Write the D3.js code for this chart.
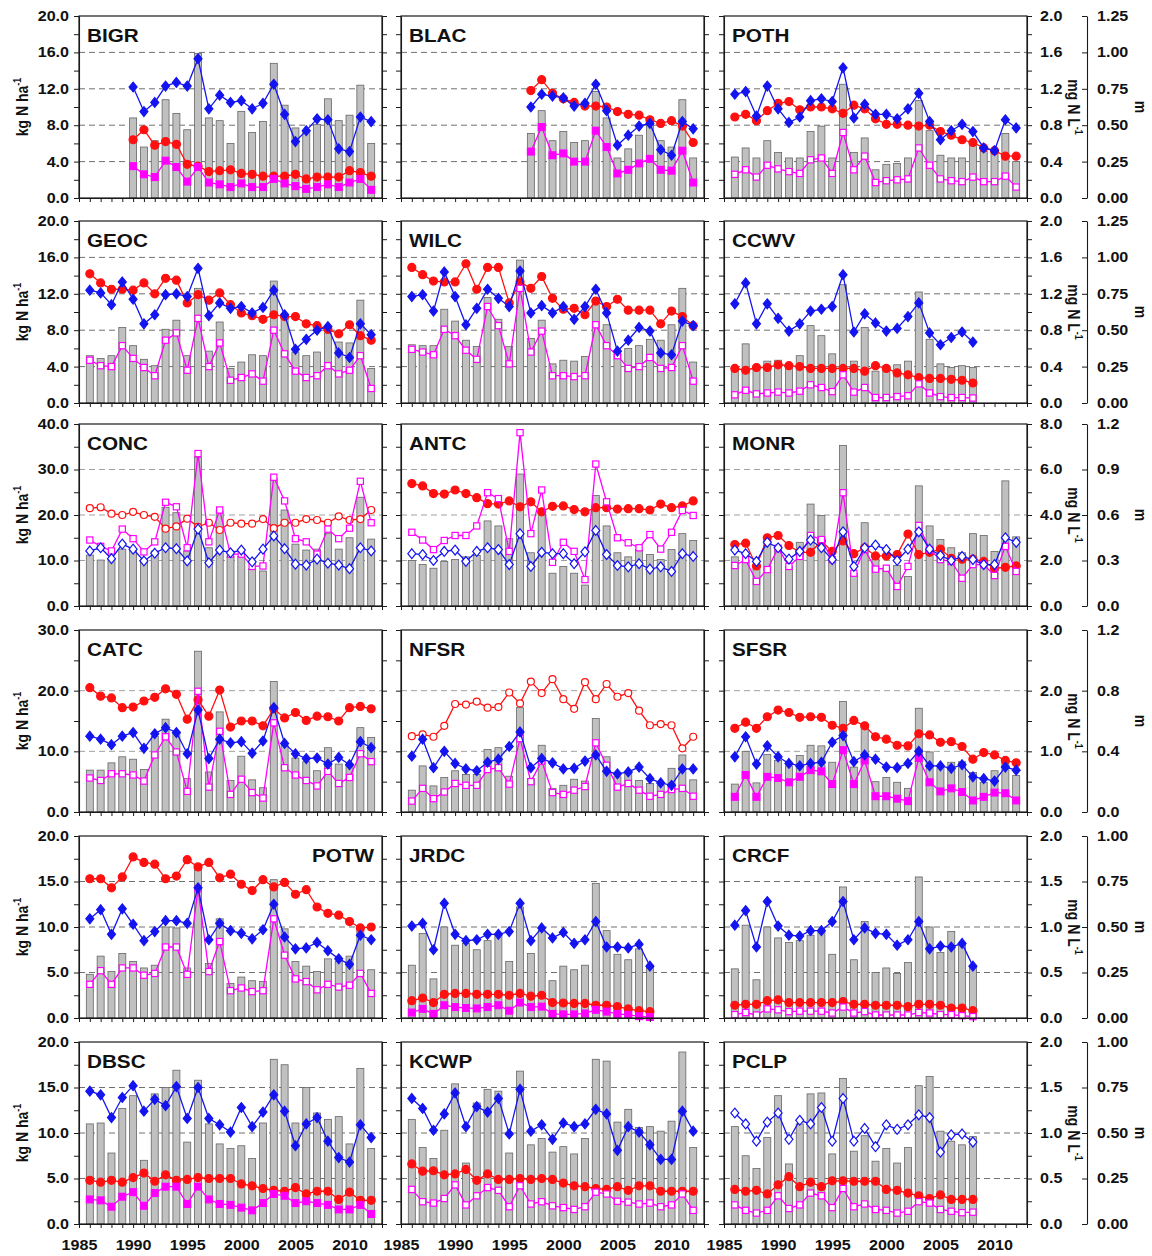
<!DOCTYPE html>
<html>
<head>
<meta charset="utf-8">
<script src="https://cdn.jsdelivr.net/npm/d3@7"></script>
<style>
  body { margin: 0; background: #fff; }
  svg text { font-family: "Liberation Sans", Arial, sans-serif; font-weight: bold; fill: #111; }
</style>
</head>
<body>
<svg id="chart" width="1152" height="1256"></svg>
<script>
// ---- Years (categories) ----
const yearsFull = [1986,1987,1988,1989,1990,1991,1992,1993,1994,1995,1996,1997,1998,1999,2000,2001,2002,2003,2004,2005,2006,2007,2008,2009,2010,2011,2012];
const years1990 = [1990,1991,1992,1993,1994,1995,1996,1997,1998,1999,2000,2001,2002,2003,2004,2005,2006,2007,2008,2009,2010,2011,2012];
const years1997 = [1997,1998,1999,2000,2001,2002,2003,2004,2005,2006,2007,2008,2009,2010,2011,2012];
const years2008 = [1986,1987,1988,1989,1990,1991,1992,1993,1994,1995,1996,1997,1998,1999,2000,2001,2002,2003,2004,2005,2006,2007,2008];
const tickYears = [1985,1986,1987,1988,1989,1990,1991,1992,1993,1994,1995,1996,1997,1998,1999,2000,2001,2002,2003,2004,2005,2006,2007,2008,2009,2010,2011,2012,2013];
const yearLabels = [1985,1990,1995,2000,2005,2010];

// ---- Series values, all on the left-axis (kg N ha-1) scale of each row ----
// bar = grey columns, circle = red, diamond = blue, square = magenta
const bigrBar     = [8.8,5.6,6.3,10.8,9.3,7.5,15.9,8.8,8.5,6.0,9.5,7.2,8.4,14.8,10.2,7.7,7.3,8.1,10.9,8.5,9.1,12.4,6.0];
const bigrDiamond = [12.2,9.5,10.5,12.3,12.7,12.3,15.3,9.8,11.3,10.5,10.7,9.8,10.4,12.5,9.2,6.2,7.4,8.7,8.6,5.4,5.1,8.9,8.4];
const bigrCircle  = [6.4,7.5,5.8,6.2,5.9,3.7,3.5,2.9,3.0,3.1,2.7,2.6,2.4,2.4,2.4,2.6,2.1,2.3,2.3,2.3,3.0,2.8,2.4];
const bigrSquare  = [3.5,2.6,2.3,4.1,3.4,1.8,3.4,1.7,1.5,1.2,1.6,1.2,1.2,2.1,1.6,1.3,1.0,1.2,1.5,1.2,1.7,2.1,0.9];

const blacBar     = [7.1,9.6,6.3,7.3,6.1,6.3,11.7,8.8,4.4,5.4,6.9,8.3,6.3,5.6,10.8,4.4];
const blacCircle  = [11.8,13.0,11.5,10.9,10.5,10.1,10.1,10.0,9.5,9.2,9.1,8.6,8.2,8.5,7.9,6.1];
const blacDiamond = [10.0,11.4,11.2,11.0,10.1,10.4,12.5,9.6,5.8,6.9,7.9,8.2,5.3,4.7,8.4,7.6];
const blacSquare  = [5.1,7.8,4.7,4.9,4.0,4.0,7.4,5.6,2.7,3.1,3.8,4.3,3.1,3.0,5.2,1.7];

const pothBar     = [4.5,5.5,4.4,6.3,5.0,4.4,4.4,7.3,7.9,4.4,12.5,5.0,6.6,3.1,3.7,3.8,4.4,10.7,7.4,4.7,4.4,4.4,5.8,5.1,4.9,7.1,4.0];
const pothDiamond = [11.4,11.7,9.0,12.3,9.8,8.3,8.9,10.7,10.9,10.6,14.3,8.8,10.3,9.2,9.2,8.7,9.8,11.5,8.4,6.4,7.4,8.1,7.3,5.5,5.2,8.6,7.7];
const pothCircle  = [8.9,9.2,8.5,9.6,10.4,10.6,9.7,10.0,10.0,9.8,9.3,10.2,9.8,8.7,8.1,8.1,8.0,7.9,8.0,7.3,6.9,6.4,6.1,5.5,5.2,4.6,4.6];
const pothSquare  = [2.6,3.1,2.3,3.6,3.2,2.9,2.7,4.2,4.4,2.7,7.2,3.1,4.6,1.7,1.9,2.0,2.1,5.5,3.6,2.1,1.9,1.8,2.3,1.8,1.8,2.4,1.2];

const geocBar     = [5.2,4.9,5.2,8.3,6.3,4.8,4.1,8.1,9.1,5.2,12.6,5.7,8.9,3.8,4.5,5.3,5.2,13.4,9.4,5.6,5.2,5.6,7.7,6.7,6.6,11.3,3.8];
const geocCircle  = [14.2,13.2,12.5,12.5,12.4,13.2,12.0,13.7,13.5,11.0,11.9,11.3,12.1,10.8,9.9,9.6,9.2,9.7,9.5,9.5,8.7,8.5,8.1,7.6,8.6,7.4,6.9];
const geocDiamond = [12.4,12.1,10.8,13.3,11.4,8.7,9.7,11.9,12.0,11.7,14.8,9.6,11.0,10.4,10.6,9.9,10.5,12.4,9.7,5.9,7.0,8.0,8.4,5.5,5.0,8.7,7.5];
const geocSquare  = [4.7,4.1,4.0,6.3,4.9,3.9,3.0,6.9,7.7,3.6,9.3,4.0,6.6,2.5,2.8,3.2,2.4,8.0,5.4,3.5,2.8,3.0,4.1,3.2,3.6,5.2,1.6];

const wilcBar     = [6.4,6.3,6.3,10.3,9.0,6.9,6.2,11.6,9.2,6.2,15.7,7.1,9.1,4.3,4.7,4.6,5.1,10.8,8.6,5.4,6.0,6.3,7.0,6.9,8.6,12.6,4.5];
const wilcCircle  = [14.9,14.1,13.4,13.3,13.3,15.3,12.5,14.9,14.9,11.0,13.3,12.6,13.9,11.5,10.3,10.4,9.7,11.2,10.6,11.4,10.2,10.2,10.2,8.7,10.1,9.5,8.5];
const wilcDiamond = [11.7,11.9,10.1,14.4,11.7,8.6,10.4,12.5,11.5,10.6,14.5,9.9,10.7,9.9,10.6,9.2,10.6,12.5,9.9,5.7,6.9,8.3,7.9,5.5,5.3,9.0,8.5];
const wilcSquare  = [5.9,5.6,5.3,8.1,7.4,5.8,4.8,10.6,8.5,4.3,12.6,5.6,7.9,3.0,3.0,2.9,3.0,8.6,6.3,5.2,3.8,4.0,5.0,3.8,3.9,6.3,2.4];

const ccwvBar     = [3.5,6.5,3.9,4.6,4.7,4.3,5.2,8.5,7.4,5.4,13.0,4.6,8.3,3.5,4.1,4.2,4.6,12.2,7.0,4.3,3.9,4.1,3.9];
const ccwvDiamond = [10.9,13.2,8.7,10.9,9.3,7.9,8.7,10.1,10.3,10.6,14.1,7.8,9.8,8.8,7.9,8.2,9.5,11.0,7.7,6.4,7.2,7.8,6.7];
const ccwvCircle  = [3.8,3.6,3.9,3.9,4.2,4.1,4.0,3.8,3.8,3.8,3.8,3.8,3.5,4.1,3.8,3.3,3.1,2.8,2.7,2.7,2.6,2.5,2.2];
const ccwvSquare  = [0.9,1.4,1.0,1.1,1.2,1.1,1.3,2.0,1.7,1.25,3.1,1.2,1.7,0.6,0.6,0.7,0.8,2.1,1.1,0.7,0.6,0.6,0.55];

const concBar     = [11.2,10.1,10.3,12.5,12.5,10.3,12.1,21.7,20.5,12.1,32.7,12.8,20.9,10.9,10.9,8.2,7.7,28.0,21.1,13.6,12.3,12.5,16.0,12.5,15.0,23.9,14.7];
const concCircle  = [21.5,21.7,20.3,20.0,20.7,20.0,19.6,17.0,17.5,19.2,17.4,18.3,16.7,18.3,18.1,18.1,19.1,17.1,18.3,18.3,19.1,18.9,18.3,19.7,18.9,19.1,21.1];
const concDiamond = [12.1,12.8,10.4,13.6,12.5,9.9,11.6,12.8,12.6,9.9,16.9,9.5,12.3,11.7,12.3,9.7,12.5,15.4,12.6,9.2,9.0,10.3,9.4,9.0,8.2,12.8,12.1];
const concSquare  = [14.5,13.1,12.1,16.9,14.8,11.9,14.1,22.8,21.8,12.8,33.5,14.1,21.1,11.4,11.4,8.7,8.8,28.3,23.1,14.8,14.1,11.4,16.9,14.8,17.1,27.4,18.3];

const antcBar     = [10.0,9.1,8.3,9.8,10.2,10.8,11.1,18.7,17.6,14.8,29.0,11.7,20.7,7.2,8.7,7.2,4.6,24.3,17.6,11.7,10.8,12.4,11.3,10.2,12.4,15.9,14.4];
const antcCircle  = [26.9,26.4,24.7,24.6,25.5,24.7,23.8,22.5,22.4,23.1,21.8,22.9,20.7,21.9,22.0,21.2,20.7,21.6,21.6,21.3,21.4,21.4,21.1,22.4,21.6,22.0,23.1];
const antcDiamond = [11.5,11.3,10.0,12.0,12.3,9.8,12.0,12.8,12.4,9.1,15.9,8.7,11.8,11.5,11.5,9.3,11.9,16.6,11.3,8.9,8.6,9.3,8.1,8.6,7.6,11.5,10.9];
const antcSquare  = [16.2,14.5,12.4,14.4,15.5,15.5,17.6,24.9,23.6,12.0,38.1,15.9,25.5,9.6,14.0,12.0,5.8,31.2,22.9,15.0,13.9,12.8,15.7,12.5,16.2,21.0,19.9];

const monrBar     = [10.8,9.8,8.9,15.2,12.8,8.7,14.0,22.4,19.9,10.2,35.3,7.2,18.3,10.2,8.3,8.9,6.5,26.4,17.6,14.6,12.8,11.7,15.9,15.5,12.0,27.5,15.2];
const monrCircle  = [13.5,13.8,8.8,15.0,15.5,13.3,11.8,11.8,14.3,12.0,14.3,11.5,12.8,11.0,11.0,11.3,15.8,11.3,11.8,12.5,10.5,10.3,10.3,9.8,8.3,8.5,8.8];
const monrDiamond = [12.3,11.5,9.8,14.0,12.8,10.3,12.0,14.5,12.8,10.2,16.3,8.7,12.8,13.4,12.4,10.0,12.5,16.3,12.5,11.1,10.0,10.9,10.2,9.1,9.1,15.0,14.0];
const monrSquare  = [8.9,10.2,5.4,8.0,12.7,8.7,10.9,15.5,14.6,10.2,24.9,7.2,12.4,8.1,8.3,4.3,8.7,17.7,12.4,10.2,9.8,6.1,9.1,9.1,6.7,13.1,7.6];

const catcBar     = [6.9,6.9,8.1,9.1,8.7,7.0,12.5,15.3,13.2,5.5,26.5,6.6,16.5,5.2,9.2,5.3,4.0,21.5,11.0,8.9,8.3,6.8,10.6,7.9,7.7,13.9,12.3];
const catcCircle  = [20.5,19.1,18.8,17.2,17.3,18.3,18.9,20.3,19.4,15.3,18.5,15.8,20.1,14.0,15.0,15.0,14.2,17.0,15.5,16.4,15.1,15.8,15.7,15.0,17.2,17.4,17.0];
const catcDiamond = [12.5,12.0,11.1,12.5,13.1,10.5,12.9,13.9,13.1,9.6,16.8,8.8,12.0,11.4,11.6,9.7,11.7,17.2,11.3,9.6,8.8,8.9,7.9,9.0,7.8,11.6,10.6];
const catcSquare  = [5.6,5.2,6.3,6.3,6.1,5.1,9.4,12.4,9.9,3.4,19.9,4.1,13.3,2.9,5.4,3.2,2.3,14.7,7.3,6.1,5.2,4.3,6.7,4.7,5.7,9.6,8.3];

const nfsrBar     = [3.6,7.6,4.3,5.7,6.8,6.2,6.2,10.3,10.6,5.9,17.2,5.5,11.0,3.9,4.4,5.4,5.1,15.4,9.1,5.8,6.5,5.2,4.7,4.4,7.2,9.4,5.3];
const nfsrCircle  = [12.5,12.8,12.4,14.2,17.8,17.7,18.2,17.2,17.3,19.7,17.9,21.5,19.6,21.9,18.6,17.0,21.4,18.6,21.1,19.0,19.6,16.7,14.3,14.5,14.3,10.5,12.4];
const nfsrDiamond = [9.2,12.0,7.3,10.0,8.0,7.1,6.8,8.2,8.7,10.8,13.2,7.3,8.8,8.1,7.1,7.2,8.4,9.4,6.7,6.3,6.6,7.4,5.5,4.8,4.4,7.1,7.1];
const nfsrSquare  = [1.8,3.9,2.2,3.3,4.7,4.4,4.4,7.0,7.3,4.6,12.1,5.0,8.4,3.2,2.9,3.6,4.2,11.4,7.7,4.1,4.7,3.6,2.6,2.9,3.7,3.9,2.6];

const sfsrBar     = [4.6,10.0,4.8,9.5,8.5,7.6,9.3,11.0,10.9,8.2,18.2,7.4,14.3,5.0,5.7,4.9,3.9,17.1,9.9,7.3,8.2,8.3,6.5,4.9,6.8,8.5,6.0];
const sfsrCircle  = [13.8,14.8,13.8,15.7,16.8,16.4,15.6,15.7,15.6,14.3,13.8,15.1,14.2,12.4,12.0,11.0,10.9,12.9,12.7,11.5,11.6,10.8,8.7,9.8,9.4,8.5,8.1];
const sfsrDiamond = [9.1,12.4,7.9,10.9,9.1,8.0,7.6,8.0,8.2,11.5,12.6,8.3,9.4,8.7,7.4,7.3,8.0,10.0,7.6,7.6,7.2,7.8,5.8,5.5,5.1,7.4,6.9];
const sfsrSquare  = [2.5,6.1,2.5,5.8,5.6,4.9,5.8,6.9,6.7,4.6,10.2,4.6,8.5,2.6,2.6,2.2,1.8,8.9,4.9,3.4,3.9,3.3,1.9,2.5,3.2,3.1,1.9];

const potwBar     = [4.8,6.8,5.1,7.1,6.2,5.5,5.8,10.0,9.9,5.5,16.9,6.0,10.9,3.8,4.5,4.1,4.0,15.2,9.8,6.2,5.7,5.1,6.5,6.2,6.8,10.0,5.3];
const potwCircle  = [15.3,15.3,14.3,15.5,17.7,17.1,16.9,15.3,15.6,17.4,16.6,17.1,15.4,15.8,14.7,14.0,15.2,14.4,14.9,13.6,14.1,12.2,11.5,11.3,10.6,9.9,10.0];
const potwDiamond = [10.9,11.9,9.2,12.0,10.3,8.5,9.5,10.7,10.7,10.4,14.3,8.6,10.4,9.6,9.3,8.7,9.7,12.5,8.9,7.6,7.7,8.3,7.4,6.5,5.9,9.1,8.6];
const potwSquare  = [3.7,5.2,3.7,5.5,5.5,4.7,4.9,7.8,7.8,4.8,14.2,5.1,8.4,3.0,3.3,2.9,3.0,10.9,6.9,4.3,4.0,3.1,3.7,3.4,3.6,4.9,2.7];

const jrdcBar     = [5.8,9.3,4.3,10.0,8.0,8.2,7.5,8.5,9.1,6.2,12.2,7.1,9.6,4.1,5.7,5.3,5.8,14.8,9.6,7.0,6.4,7.6,5.8];
const jrdcDiamond = [10.1,10.4,7.5,12.6,9.2,8.5,8.6,9.2,9.2,9.5,12.6,8.5,9.9,8.8,9.4,8.2,8.6,10.6,7.8,7.8,7.7,8.1,5.7];
const jrdcCircle  = [1.9,2.2,1.7,2.6,2.7,2.7,2.6,2.6,2.6,2.5,2.7,2.4,2.5,1.7,1.65,1.6,1.6,1.4,1.4,1.25,1.0,0.8,0.7];
const jrdcSquare  = [0.6,1.0,0.45,1.4,1.2,1.1,1.05,1.2,1.4,0.8,1.7,1.2,1.25,0.45,0.4,0.4,0.5,0.9,0.7,0.45,0.35,0.2,0.1];

const crcfBar     = [5.4,10.2,4.2,10.0,8.8,8.3,8.5,9.1,9.4,7.0,14.4,6.4,10.6,5.0,5.5,4.9,6.1,15.5,10.0,7.2,9.5,8.2,5.8];
const crcfDiamond = [10.2,11.8,7.8,12.8,10.1,9.1,9.0,9.6,9.6,10.6,12.8,8.6,9.9,9.3,9.2,8.0,8.6,10.6,7.6,7.9,7.8,8.2,5.7];
const crcfCircle  = [1.4,1.5,1.5,1.9,2.0,1.7,1.7,1.7,1.7,1.7,1.8,1.5,1.5,1.4,1.4,1.4,1.25,1.5,1.5,1.4,1.1,1.1,0.8];
const crcfSquare  = [0.37,0.6,0.33,1.0,0.9,0.7,0.75,0.75,0.75,0.55,1.2,0.55,0.7,0.33,0.33,0.33,0.33,0.6,0.55,0.37,0.37,0.25,0.15];

const dbscBar     = [11.0,11.1,7.8,12.7,14.1,7.0,14.3,15.0,16.9,9.0,15.8,11.0,8.8,8.3,8.6,7.2,11.1,18.1,17.5,11.1,15.0,12.2,11.5,11.8,8.8,17.1,8.3];
const dbscDiamond = [14.6,14.2,11.7,13.9,15.2,12.4,13.7,13.0,15.1,11.6,15.0,11.6,10.9,10.1,12.8,10.7,12.3,14.2,12.4,8.6,11.0,11.7,9.1,7.3,6.8,10.9,9.5];
const dbscCircle  = [4.8,4.6,4.8,4.6,5.1,5.6,4.7,5.4,4.8,4.9,5.1,5.0,5.0,5.0,4.4,4.2,3.9,3.7,3.6,4.0,3.3,3.6,3.6,2.7,3.5,2.6,2.6];
const dbscSquare  = [2.7,2.6,1.9,3.0,3.5,2.0,3.4,4.1,4.1,2.2,4.1,2.7,2.2,2.1,1.8,1.5,2.3,3.3,3.1,2.3,2.5,2.3,2.1,1.6,1.6,2.1,1.1];

const kcwpBar     = [11.5,8.4,7.2,10.3,15.4,6.7,13.3,14.8,14.6,7.8,16.8,8.7,9.4,7.9,8.5,7.7,9.4,18.1,17.9,11.2,12.6,10.6,10.7,10.2,11.3,18.9,8.4];
const kcwpDiamond = [13.8,12.7,10.3,12.1,14.4,10.7,12.9,12.3,13.8,9.9,14.8,10.2,10.9,9.3,11.1,10.7,11.0,12.6,12.1,8.1,10.7,10.1,8.7,7.1,7.1,12.4,10.2];
const kcwpCircle  = [6.6,5.8,5.85,5.4,5.5,6.0,4.8,5.5,4.9,4.9,5.0,4.9,5.0,4.9,4.5,4.2,4.1,3.9,3.8,4.1,3.7,4.2,4.2,3.6,3.6,3.6,3.6];
const kcwpSquare  = [3.8,2.45,2.3,2.8,4.3,2.1,3.1,4.0,3.7,1.9,4.2,2.2,2.45,2.0,1.8,1.6,1.9,3.5,3.3,2.5,2.4,2.2,2.3,1.9,2.1,3.3,1.5];

const pclpBar     = [10.7,7.5,6.1,9.5,14.1,6.6,11.0,14.3,14.4,7.7,16.0,8.0,9.7,6.9,8.3,6.7,8.4,15.2,16.2,10.2,9.1,8.7,9.6];
const pclpDiamond = [12.2,11.0,9.1,11.2,12.2,9.3,11.4,11.0,12.8,9.1,13.8,9.1,10.5,8.5,10.9,10.4,10.9,12.0,11.7,7.9,9.8,9.9,9.0];
const pclpCircle  = [3.8,3.6,3.7,3.3,4.3,5.2,4.1,4.6,4.1,4.75,4.75,4.7,4.7,4.7,3.8,3.7,3.4,3.1,2.8,3.2,2.7,2.7,2.7];
const pclpSquare  = [2.1,1.5,1.2,1.5,3.1,1.7,2.1,3.4,3.1,1.8,3.9,1.9,2.2,1.6,1.5,1.2,1.4,2.45,2.3,1.6,1.4,1.25,1.3];

// ---- Axis tick labels per row ----
const leftTicks  = [[0,4,8,12,16,20],[0,4,8,12,16,20],[0,10,20,30,40],[0,10,20,30],[0,5,10,15,20],[0,5,10,15,20]];
const leftMinor  = [[2,6,10,14,18],[2,6,10,14,18],[5,15,25,35],[5,15,25],[2.5,7.5,12.5,17.5],[2.5,7.5,12.5,17.5]];
const mgTicks    = [[0,0.4,0.8,1.2,1.6,2.0],[0,0.4,0.8,1.2,1.6,2.0],[0,2,4,6,8],[0,1,2,3],[0,0.5,1.0,1.5,2.0],[0,0.5,1.0,1.5,2.0]];
const mgMinor    = [[0.2,0.6,1.0,1.4,1.8],[0.2,0.6,1.0,1.4,1.8],[1,3,5,7],[0.5,1.5,2.5],[0.25,0.75,1.25,1.75],[0.25,0.75,1.25,1.75]];
const mTicks     = [[0,0.25,0.5,0.75,1.0,1.25],[0,0.25,0.5,0.75,1.0,1.25],[0,0.3,0.6,0.9,1.2],[0,0.4,0.8,1.2],[0,0.25,0.5,0.75,1.0],[0,0.25,0.5,0.75,1.0]];
const mDigits    = [2,2,1,1,2,2];

// ---- Panel table ----
const sites = [
  {name:"BIGR", row:0, col:0, years:years1990, bar:bigrBar, circle:bigrCircle, diamond:bigrDiamond, square:bigrSquare, open:[0,0,0]},
  {name:"BLAC", row:0, col:1, years:years1997, bar:blacBar, circle:blacCircle, diamond:blacDiamond, square:blacSquare, open:[0,0,0]},
  {name:"POTH", row:0, col:2, years:yearsFull, bar:pothBar, circle:pothCircle, diamond:pothDiamond, square:pothSquare, open:[0,0,1]},
  {name:"GEOC", row:1, col:0, years:yearsFull, bar:geocBar, circle:geocCircle, diamond:geocDiamond, square:geocSquare, open:[0,0,1]},
  {name:"WILC", row:1, col:1, years:yearsFull, bar:wilcBar, circle:wilcCircle, diamond:wilcDiamond, square:wilcSquare, open:[0,0,1]},
  {name:"CCWV", row:1, col:2, years:years2008, bar:ccwvBar, circle:ccwvCircle, diamond:ccwvDiamond, square:ccwvSquare, open:[0,0,1]},
  {name:"CONC", row:2, col:0, years:yearsFull, bar:concBar, circle:concCircle, diamond:concDiamond, square:concSquare, open:[1,1,1]},
  {name:"ANTC", row:2, col:1, years:yearsFull, bar:antcBar, circle:antcCircle, diamond:antcDiamond, square:antcSquare, open:[0,1,1]},
  {name:"MONR", row:2, col:2, years:yearsFull, bar:monrBar, circle:monrCircle, diamond:monrDiamond, square:monrSquare, open:[0,1,1]},
  {name:"CATC", row:3, col:0, years:yearsFull, bar:catcBar, circle:catcCircle, diamond:catcDiamond, square:catcSquare, open:[0,0,1]},
  {name:"NFSR", row:3, col:1, years:yearsFull, bar:nfsrBar, circle:nfsrCircle, diamond:nfsrDiamond, square:nfsrSquare, open:[1,0,1]},
  {name:"SFSR", row:3, col:2, years:yearsFull, bar:sfsrBar, circle:sfsrCircle, diamond:sfsrDiamond, square:sfsrSquare, open:[0,0,0]},
  {name:"POTW", row:4, col:0, years:yearsFull, bar:potwBar, circle:potwCircle, diamond:potwDiamond, square:potwSquare, open:[0,0,1], right:true},
  {name:"JRDC", row:4, col:1, years:years2008, bar:jrdcBar, circle:jrdcCircle, diamond:jrdcDiamond, square:jrdcSquare, open:[0,0,0]},
  {name:"CRCF", row:4, col:2, years:years2008, bar:crcfBar, circle:crcfCircle, diamond:crcfDiamond, square:crcfSquare, open:[0,0,1]},
  {name:"DBSC", row:5, col:0, years:yearsFull, bar:dbscBar, circle:dbscCircle, diamond:dbscDiamond, square:dbscSquare, open:[0,0,0]},
  {name:"KCWP", row:5, col:1, years:yearsFull, bar:kcwpBar, circle:kcwpCircle, diamond:kcwpDiamond, square:kcwpSquare, open:[0,0,1]},
  {name:"PCLP", row:5, col:2, years:years2008, bar:pclpBar, circle:pclpCircle, diamond:pclpDiamond, square:pclpSquare, open:[0,1,1]}
];

// ---- Layout ----
const colX = [79, 401, 724];
const rowY = [16, 221, 424, 630, 836, 1042];
const PW = 303, PH = 182;
const SX = 1.15;                 // horizontal widening of the bold lettering
const mAxisX = 1087;
const RED = "#ff1010", BLUE = "#1414f0", MAG = "#ff00ff";
const FONT = "Liberation Sans, Arial, sans-serif";
const gridColour = ["#707070", "#707070", "#a0a0a0", "#a0a0a0", "#707070", "#707070"];

const svg = d3.select("#chart");

function styleAxis(g) {
  g.attr("font-family", FONT).attr("font-size", 14).attr("font-weight", "bold");
  g.selectAll("path.domain").attr("stroke", "#1a1a1a").attr("stroke-width", 1.1);
  g.selectAll(".tick line").attr("stroke", "#1a1a1a").attr("stroke-width", 1);
  g.selectAll(".tick text").attr("fill", "#111");
}

const diamondPath = "M0,-4.9L4,0L0,4.9L-4,0Z";

function drawSeries(g, x, y, years, vals, color, shape, open) {
  const pts = years.map((yr, i) => [x(yr), y(vals[i])]);
  g.append("path").attr("d", d3.line()(pts))
    .attr("fill", "none").attr("stroke", color).attr("stroke-width", 1.3);
  const fill = open ? "#fff" : color;
  const mk = g.append("g");
  if (shape === "circle") {
    mk.selectAll("circle").data(pts).join("circle")
      .attr("cx", d => d[0]).attr("cy", d => d[1]).attr("r", open ? 3.5 : 4)
      .attr("fill", fill).attr("stroke", color).attr("stroke-width", 1.2);
  } else if (shape === "square") {
    const h = open ? 3.1 : 3.4;
    mk.selectAll("rect").data(pts).join("rect")
      .attr("x", d => d[0] - h).attr("y", d => d[1] - h).attr("width", 2 * h).attr("height", 2 * h)
      .attr("fill", fill).attr("stroke", color).attr("stroke-width", 1.2);
  } else {
    mk.selectAll("path").data(pts).join("path")
      .attr("d", diamondPath).attr("transform", d => `translate(${d[0]},${d[1]})`)
      .attr("fill", fill).attr("stroke", color).attr("stroke-width", 1.2);
  }
}

sites.forEach(s => {
  const L = colX[s.col], T = rowY[s.row], r = s.row;
  const lt = leftTicks[r];
  const yMax = lt[lt.length - 1];
  const x = d3.scaleLinear().domain([1985, 2013]).range([L, L + PW]);
  const y = d3.scaleLinear().domain([0, yMax]).range([T + PH, T]);
  const g = svg.append("g");

  // dashed gridlines at the inner major ticks
  g.selectAll("line.grid").data(lt.filter(v => v > 0 && v < yMax)).join("line")
    .attr("class", "grid")
    .attr("x1", L).attr("x2", L + PW).attr("y1", d => y(d)).attr("y2", d => y(d))
    .attr("stroke", gridColour[r]).attr("stroke-width", 1).attr("stroke-dasharray", "6,4");

  // grey columns
  g.selectAll("rect.bar").data(s.years.map((yr, i) => [yr, s.bar[i]])).join("rect")
    .attr("class", "bar")
    .attr("x", d => x(d[0]) - 3.5).attr("width", 7)
    .attr("y", d => y(d[1])).attr("height", d => y(0) - y(d[1]))
    .attr("fill", "#c0c0c0").attr("stroke", "#666").attr("stroke-width", 0.8);

  drawSeries(g, x, y, s.years, s.circle, RED, "circle", s.open[0]);
  drawSeries(g, x, y, s.years, s.square, MAG, "square", s.open[2]);
  drawSeries(g, x, y, s.years, s.diamond, BLUE, "diamond", s.open[1]);

  // frame
  g.append("rect").attr("x", L).attr("y", T).attr("width", PW).attr("height", PH)
    .attr("fill", "none").attr("stroke", "#1a1a1a").attr("stroke-width", 1.2);

  // left axis
  const la = g.append("g").attr("transform", `translate(${L},0)`)
    .call(d3.axisLeft(y).tickValues(lt).tickSize(5).tickSizeOuter(0)
      .tickFormat(s.col === 0 ? d3.format(".1f") : ""));
  la.append("g").call(d3.axisLeft(y).tickValues(leftMinor[r]).tickSize(5).tickSizeOuter(0).tickFormat(""))
    .select("path.domain").remove();
  styleAxis(la);
  la.selectAll(".tick text").attr("x", -10 / SX).attr("transform", `scale(${SX},1)`);

  // bottom axis
  const ba = g.append("g").attr("transform", `translate(0,${T + PH})`)
    .call(d3.axisBottom(x).tickValues(tickYears).tickSize(4).tickSizeOuter(0).tickFormat(""));
  styleAxis(ba);
  if (r === 5) {
    const bl = g.append("g").attr("transform", `translate(0,${T + PH})`)
      .call(d3.axisBottom(x).tickValues(yearLabels).tickSize(0).tickFormat(d3.format("d")));
    bl.select("path.domain").remove();
    styleAxis(bl);
    bl.selectAll(".tick text").attr("y", 16.5).attr("transform", `scale(${SX},1)`);
  }

  // right side
  if (s.col < 2) {
    const ra = g.append("g").attr("transform", `translate(${L + PW},0)`)
      .call(d3.axisRight(y).tickValues(lt).tickSize(5).tickSizeOuter(0).tickFormat(""));
    ra.append("g").call(d3.axisRight(y).tickValues(leftMinor[r]).tickSize(5).tickSizeOuter(0).tickFormat(""))
      .select("path.domain").remove();
    styleAxis(ra);
  } else {
    const mg = mgTicks[r];
    const yMg = d3.scaleLinear().domain([0, mg[mg.length - 1]]).range([T + PH, T]);
    const ra = g.append("g").attr("transform", `translate(${L + PW},0)`)
      .call(d3.axisRight(yMg).tickValues(mg).tickSize(5).tickSizeOuter(0).tickFormat(d3.format(".1f")));
    ra.append("g").call(d3.axisRight(yMg).tickValues(mgMinor[r]).tickSize(5).tickSizeOuter(0).tickFormat(""))
      .select("path.domain").remove();
    styleAxis(ra);
    ra.selectAll(".tick text").attr("x", 13 / SX).attr("transform", `scale(${SX},1)`);

    const mt = mTicks[r];
    const yM = d3.scaleLinear().domain([0, mt[mt.length - 1]]).range([T + PH, T]);
    const ma = g.append("g").attr("transform", `translate(${mAxisX},0)`)
      .call(d3.axisRight(yM).tickValues(mt).tickSize(-5).tickSizeOuter(0)
        .tickFormat(d3.format(`.${mDigits[r]}f`)));
    styleAxis(ma);
    ma.selectAll(".tick text").attr("x", 10 / SX).attr("transform", `scale(${SX},1)`);

    // right-hand axis titles
    const mid = T + PH / 2;
    const t1 = svg.append("text").attr("transform", `translate(1068,${mid}) scale(${SX},1) rotate(90)`)
      .attr("text-anchor", "middle").attr("font-size", 14);
    t1.append("tspan").text("mg N L");
    t1.append("tspan").attr("font-size", 9).attr("dy", -6).text("-1");
    svg.append("text").attr("transform", `translate(1135,${mid}) scale(${SX},1) rotate(90)`)
      .attr("text-anchor", "middle").attr("font-size", 14).text("m");
  }

  // site name
  if (s.right) {
    g.append("text").attr("transform", `translate(${L + PW - 8},${T + 26}) scale(${SX},1)`)
      .attr("text-anchor", "end").attr("font-size", 18).text(s.name);
  } else {
    g.append("text").attr("transform", `translate(${L + 8},${T + 26}) scale(${SX},1)`)
      .attr("font-size", 18).text(s.name);
  }

  // left axis title
  if (s.col === 0) {
    const mid = T + PH / 2;
    const t = svg.append("text").attr("transform", `translate(28,${mid}) scale(${SX},1) rotate(-90)`)
      .attr("text-anchor", "middle").attr("font-size", 14);
    t.append("tspan").text("kg N ha");
    t.append("tspan").attr("font-size", 9).attr("dy", -6).text("-1");
  }
});
</script>
</body>
</html>
